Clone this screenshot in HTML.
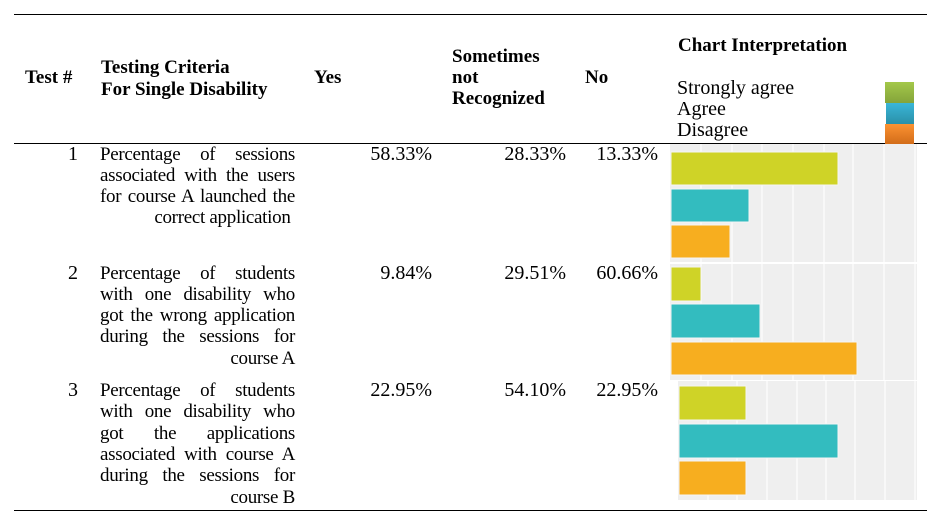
<!DOCTYPE html>
<html><head><style>
body{margin:0;width:935px;height:519px;background:#fff;position:relative;overflow:hidden;font-family:"Liberation Serif",serif;font-size:20px;color:#000}
.t{position:absolute;line-height:21px;white-space:nowrap}
.b{font-weight:bold;font-size:19px}
.j{position:absolute;left:100px;width:195px;line-height:21px;font-size:19px;letter-spacing:-0.3px;text-align:justify;text-align-last:justify;white-space:nowrap}
.r{text-align:right;text-align-last:right}
.hl{position:absolute;left:14px;width:913px;height:1px;background:#000}
.n{position:absolute;text-align:right;line-height:21px}
</style></head><body>
<div class="hl" style="top:14px"></div>
<div class="hl" style="top:143px"></div>
<div class="hl" style="top:510px"></div>

<div class="t b" style="left:25px;top:67px">Test #</div>
<div class="t b" style="left:101px;top:57px">Testing Criteria</div>
<div class="t b" style="left:101px;top:79px">For Single Disability</div>
<div class="t b" style="left:314px;top:67px">Yes</div>
<div class="t b" style="left:452px;top:46px">Sometimes</div>
<div class="t b" style="left:452px;top:67px">not</div>
<div class="t b" style="left:452px;top:88px">Recognized</div>
<div class="t b" style="left:585px;top:67px">No</div>
<div class="t b" style="left:678px;top:35px">Chart Interpretation</div>
<div class="t" style="left:677px;top:78px">Strongly agree</div>
<div class="t" style="left:677px;top:99px">Agree</div>
<div class="t" style="left:677px;top:120px">Disagree</div>
<div style="position:absolute;left:885px;top:82px;width:29px;height:21px;background:linear-gradient(#a4c84a,#84a43a)"></div>
<div style="position:absolute;left:886px;top:103px;width:28px;height:21px;background:linear-gradient(#3ab6d8,#2a90a8)"></div>
<div style="position:absolute;left:885px;top:124px;width:29px;height:21px;background:linear-gradient(#fb9332,#d06a18)"></div>

<!-- row 1 -->
<div class="n" style="left:40px;width:38px;top:144px">1</div>
<div class="j" style="top:144px">Percentage of sessions</div>
<div class="j" style="top:165px">associated with the users</div>
<div class="j" style="top:186px">for course A launched the</div>
<div class="j r" style="top:207px">correct application&nbsp;</div>
<div class="n" style="left:330px;width:102px;top:144px">58.33%</div>
<div class="n" style="left:460px;width:106px;top:144px">28.33%</div>
<div class="n" style="left:570px;width:88px;top:144px">13.33%</div>

<!-- row 2 -->
<div class="n" style="left:40px;width:38px;top:263px">2</div>
<div class="j" style="top:263px">Percentage of students</div>
<div class="j" style="top:284px">with one disability who</div>
<div class="j" style="top:305px">got the wrong application</div>
<div class="j" style="top:326px">during the sessions for</div>
<div class="j r" style="top:348px">course A</div>
<div class="n" style="left:330px;width:102px;top:263px">9.84%</div>
<div class="n" style="left:460px;width:106px;top:263px">29.51%</div>
<div class="n" style="left:570px;width:88px;top:263px">60.66%</div>

<!-- row 3 -->
<div class="n" style="left:40px;width:38px;top:380px">3</div>
<div class="j" style="top:380px">Percentage of students</div>
<div class="j" style="top:401px">with one disability who</div>
<div class="j" style="top:423px">got the applications</div>
<div class="j" style="top:444px">associated with course A</div>
<div class="j" style="top:465px">during the sessions for</div>
<div class="j r" style="top:487px">course B</div>
<div class="n" style="left:330px;width:102px;top:380px">22.95%</div>
<div class="n" style="left:460px;width:106px;top:380px">54.10%</div>
<div class="n" style="left:570px;width:88px;top:380px">22.95%</div>

<svg style="position:absolute;left:0;top:0" width="935" height="519">
<g stroke="#fafafa" stroke-width="1.5">
<rect x="670" y="144" width="247" height="118" fill="#efefef" stroke="none"/>
<line x1="701" y1="144" x2="701" y2="262"/><line x1="732" y1="144" x2="732" y2="262"/><line x1="762" y1="144" x2="762" y2="262"/><line x1="793" y1="144" x2="793" y2="262"/><line x1="824" y1="144" x2="824" y2="262"/><line x1="853" y1="144" x2="853" y2="262"/><line x1="884" y1="144" x2="884" y2="262"/><line x1="915" y1="144" x2="915" y2="262"/>
<rect x="670" y="264" width="247" height="116" fill="#efefef" stroke="none"/>
<line x1="701" y1="264" x2="701" y2="380"/><line x1="732" y1="264" x2="732" y2="380"/><line x1="762" y1="264" x2="762" y2="380"/><line x1="793" y1="264" x2="793" y2="380"/><line x1="824" y1="264" x2="824" y2="380"/><line x1="853" y1="264" x2="853" y2="380"/><line x1="884" y1="264" x2="884" y2="380"/><line x1="915" y1="264" x2="915" y2="380"/>
<rect x="678" y="381" width="239" height="119" fill="#efefef" stroke="none"/>
<line x1="708" y1="381" x2="708" y2="500"/><line x1="737" y1="381" x2="737" y2="500"/><line x1="767" y1="381" x2="767" y2="500"/><line x1="797" y1="381" x2="797" y2="500"/><line x1="826" y1="381" x2="826" y2="500"/><line x1="855" y1="381" x2="855" y2="500"/><line x1="885" y1="381" x2="885" y2="500"/><line x1="915" y1="381" x2="915" y2="500"/>
</g>
<g stroke="#f4f4f4" stroke-width="1">
<rect x="671" y="152" width="167" height="33" fill="#cfd327"/>
<rect x="671" y="189" width="78" height="33" fill="#33bcbf"/>
<rect x="671" y="225" width="59" height="33" fill="#f7ae1f"/>
<rect x="671" y="267" width="30" height="34" fill="#cfd327"/>
<rect x="671" y="304" width="89" height="34" fill="#33bcbf"/>
<rect x="671" y="342" width="186" height="33" fill="#f7ae1f"/>
<rect x="679" y="386" width="67" height="34" fill="#cfd327"/>
<rect x="679" y="424" width="159" height="34" fill="#33bcbf"/>
<rect x="679" y="461" width="67" height="34" fill="#f7ae1f"/>
</g>
</svg>
</body></html>
